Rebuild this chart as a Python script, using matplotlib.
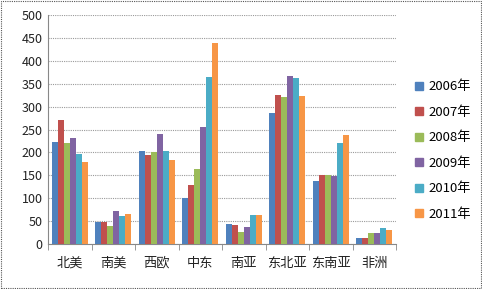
import matplotlib
matplotlib.use("Agg")
import matplotlib.pyplot as plt
import numpy as np
from matplotlib.patches import Rectangle
from matplotlib.lines import Line2D

plt.rcParams['font.family'] = ['Noto Sans CJK SC', 'DejaVu Sans']

categories = ['北美', '南美', '西欧', '中东', '南亚', '东北亚', '东南亚', '非洲']
series_names = ['2006年', '2007年', '2008年', '2009年', '2010年', '2011年']
v2006 = [222, 49, 202, 100, 44, 285, 138, 13]
v2007 = [271, 49, 194, 128, 41, 325, 150, 13]
v2008 = [220, 40, 200, 163, 27, 321, 150, 25]
v2009 = [231, 71, 240, 255, 38, 366, 148, 25]
v2010 = [197, 62, 204, 365, 64, 362, 221, 34]
v2011 = [178, 66, 184, 440, 64, 323, 237, 31]
series = [v2006, v2007, v2008, v2009, v2010, v2011]
colors = ['#4F81BD', '#C0504D', '#9BBB59', '#8064A2', '#4BACC6', '#F79646']
yticks = [0, 50, 100, 150, 200, 250, 300, 350, 400, 450, 500]

fig = plt.figure(figsize=(4.82, 2.89), dpi=100)
ax = fig.add_axes([0.0996, 0.1557, 0.7220, 0.7923])

n = len(series)
bw = 0.83 / n
x = np.arange(len(categories))
for i, (vals, c) in enumerate(zip(series, colors)):
    ax.bar(x - 0.415 + bw * (i + 0.5), vals, width=bw, color=c, label=series_names[i], zorder=3, linewidth=0)

ax.set_xlim(-0.5, len(categories) - 0.5)
ax.set_ylim(0, 500)
ax.set_yticks(yticks)
ax.set_yticklabels([str(t) for t in yticks], fontsize=9, color='#222222')
ax.yaxis.grid(True, color='#9a9a9a', linestyle=(0, (1, 1)), linewidth=0.8, zorder=0)
ax.set_xticks(x)
ax.set_xticklabels(categories, fontsize=9.5, color='#222222')
ax.tick_params(axis='x', length=0, pad=9)
ax.set_xticks(np.arange(-0.5, len(categories) + 0.5, 1), minor=True)
ax.tick_params(axis='x', which='minor', length=4, color='#888888')
ax.tick_params(axis='y', length=0, pad=4)
for s in ['top', 'right']:
    ax.spines[s].set_visible(False)
ax.spines['left'].set_color('#888888')
ax.spines['bottom'].set_color('#888888')

handles = [Line2D([0], [0], marker='s', linestyle='', markersize=5.5, markerfacecolor=c, markeredgecolor=c) for c in colors]
fig.legend(handles, series_names, loc='upper left', bbox_to_anchor=(0.845, 0.745), frameon=False,
           fontsize=9.5, labelspacing=0.95, handlelength=0.8, handletextpad=0.3, borderpad=0)

fig.patches.append(Rectangle((0.002, 0.003), 0.995, 0.994, transform=fig.transFigure, fill=False,
                             edgecolor='#555555', linestyle=(0, (1, 1)), linewidth=0.8))

fig.savefig('out.png', dpi=100)
